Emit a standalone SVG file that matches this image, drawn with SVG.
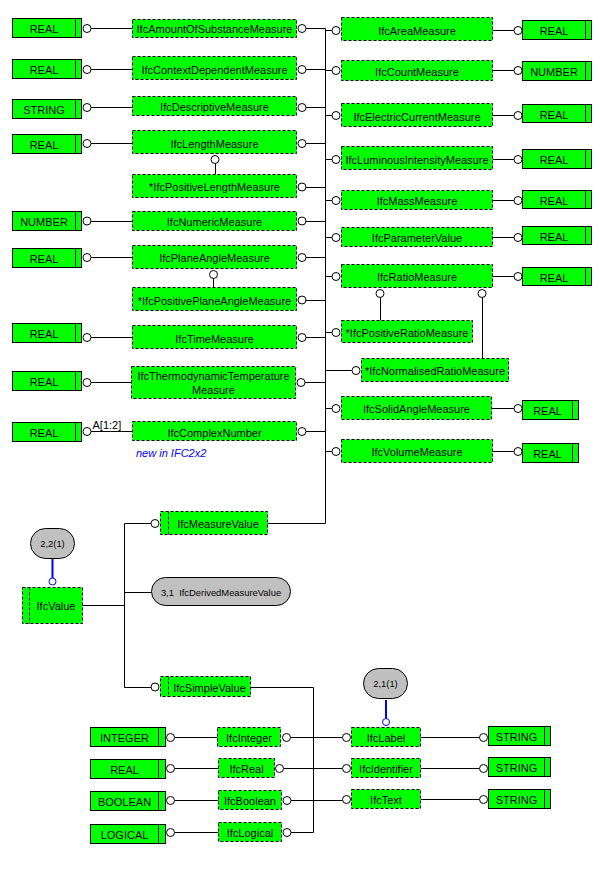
<svg xmlns="http://www.w3.org/2000/svg" width="600" height="888" viewBox="0 0 600 888">
<style>
.e{fill:#00ff00;stroke:#000;stroke-width:1;stroke-dasharray:3 2}
.b{fill:#00ff00;stroke:#000;stroke-width:1}
.d{stroke:#000;stroke-width:1;fill:none}
.dd{stroke:#000;stroke-width:1;fill:none;stroke-dasharray:3 2}
.c{fill:#fff;stroke:#000;stroke-width:1}
.cb{fill:#fff;stroke:#0000ff;stroke-width:1}
.o{fill:#c0c0c0;stroke:#000;stroke-width:1}
.l{stroke:#000;stroke-width:1;fill:none}
.lb{stroke:#0000ff;stroke-width:2;fill:none}
text{font-family:"Liberation Sans",Arial,sans-serif;font-size:11px;text-anchor:middle;fill:#000}
.s{font-size:9.4px}
.n{fill:#0000ff;font-style:italic;text-anchor:start}
.a{text-anchor:start}
</style>
<rect x="0" y="0" width="600" height="888" fill="#fff"/>

<g id="connectors">
<!-- left base types to middle column -->
<path class="l" d="M91,28.5H132.5 M91,69.5H132.5 M91,107.5H132.5 M91,143.5H132.5 M91,221.5H132.5 M91,257.5H132.5 M91,337.5H132.5 M91,382.5H131.5 M91,431.5H132.5"/>
<!-- middle column to bus -->
<path class="l" d="M306,28.5H325.5 M306,69.5H325.5 M306,107.5H325.5 M306,143.5H325.5 M306,187.5H325.5 M306,221.5H325.5 M306,257.5H325.5 M306,300.5H325.5 M306,337.5H325.5 M305,382.5H325.5 M306,431.5H325.5"/>
<!-- bus -->
<path class="l" d="M325.5,28.5V523.5H267.5"/>
<!-- bus to right column -->
<path class="l" d="M325.5,30.5H332 M325.5,70.5H332 M325.5,115.5H332 M325.5,159.5H332 M325.5,200.5H332 M325.5,237.5H332 M325.5,276.5H332 M325.5,332.5H332 M325.5,370.5H352 M325.5,408.5H332 M325.5,451.5H332"/>
<!-- right column to base types -->
<path class="l" d="M492.5,30.5H514 M492.5,70.5H514 M492.5,115.5H514 M492.5,159.5H514 M492.5,200.5H514 M492.5,237.5H514 M492.5,276.5H514 M491.5,408.5H514 M492.5,451.5H514"/>
<!-- subtype links -->
<path class="l" d="M215.5,163.5V174.5 M213.5,278.5V287.5 M380.5,297.5V320.5 M482.5,297.5V358.5"/>
<!-- IfcValue select -->
<path class="l" d="M82.5,605.5H124.5 M124.5,523.5V687.5 M124.5,523.5H151 M124.5,592.5H151 M124.5,687.5H151"/>
<path class="lb" d="M52.5,559V578"/>
<!-- IfcSimpleValue select -->
<path class="l" d="M250.5,687.5H313.5V832.5 M290.5,737.5H342.5 M283.5,768.5H342.5 M291,800.5H342.5 M291,832.5H313.5"/>
<path class="l" d="M174.5,737.5H217.5 M174.5,768.5H218.5 M174.5,800.5H218.5 M174.5,832.5H218.5"/>
<path class="l" d="M420.5,737.5H479.5 M420.5,768.5H479.5 M420.5,799.5H479.5"/>
<path class="lb" d="M386,700V718.5"/>
</g>

<!-- left base types -->
<g id="b_real1"><rect class="b" x="12.5" y="18.5" width="69" height="19"/><path class="d" d="M75.5,18.5V37.5"/><text x="44" y="33">REAL</text><circle class="c" cx="87" cy="28.5" r="4"/></g>
<g id="b_real2"><rect class="b" x="12.5" y="59.5" width="69" height="19"/><path class="d" d="M75.5,59.5V78.5"/><text x="44" y="74">REAL</text><circle class="c" cx="87" cy="69.5" r="4"/></g>
<g id="b_string1"><rect class="b" x="12.5" y="99.5" width="69" height="19"/><path class="d" d="M75.5,99.5V118.5"/><text x="44" y="114">STRING</text><circle class="c" cx="87" cy="107.5" r="4"/></g>
<g id="b_real3"><rect class="b" x="12.5" y="134.5" width="69" height="19"/><path class="d" d="M75.5,134.5V153.5"/><text x="44" y="149">REAL</text><circle class="c" cx="87" cy="143.5" r="4"/></g>
<g id="b_number1"><rect class="b" x="12.5" y="211.5" width="69" height="19"/><path class="d" d="M75.5,211.5V230.5"/><text x="44" y="226">NUMBER</text><circle class="c" cx="87" cy="221" r="4"/></g>
<g id="b_real4"><rect class="b" x="12.5" y="248.5" width="69" height="19"/><path class="d" d="M75.5,248.5V267.5"/><text x="44" y="263">REAL</text><circle class="c" cx="87" cy="257.5" r="4"/></g>
<g id="b_real5"><rect class="b" x="12.5" y="323.5" width="69" height="19"/><path class="d" d="M75.5,323.5V342.5"/><text x="44" y="338">REAL</text><circle class="c" cx="87" cy="337.5" r="4"/></g>
<g id="b_real6"><rect class="b" x="12.5" y="371.5" width="69" height="19"/><path class="d" d="M75.5,371.5V390.5"/><text x="44" y="386">REAL</text><circle class="c" cx="87" cy="382.5" r="4"/></g>
<g id="b_real7"><rect class="b" x="12.5" y="422.5" width="69" height="19"/><path class="d" d="M75.5,422.5V441.5"/><text x="44" y="437">REAL</text><circle class="c" cx="87" cy="431.5" r="4"/><text class="a" x="92.5" y="428.5">A[1:2]</text></g>

<!-- middle column -->
<g id="IfcAmountOfSubstanceMeasure"><rect class="e" x="132.5" y="19.5" width="164" height="18"/><text x="214.5" y="33">IfcAmountOfSubstanceMeasure</text><circle class="c" cx="302" cy="28.5" r="4"/></g>
<g id="IfcContextDependentMeasure"><rect class="e" x="132.5" y="56.5" width="164" height="23"/><text x="214.5" y="73.5">IfcContextDependentMeasure</text><circle class="c" cx="302" cy="69.5" r="4"/></g>
<g id="IfcDescriptiveMeasure"><rect class="e" x="132.5" y="96.5" width="164" height="19"/><text x="214.5" y="111">IfcDescriptiveMeasure</text><circle class="c" cx="302" cy="107.5" r="4"/></g>
<g id="IfcLengthMeasure"><rect class="e" x="132.5" y="130.5" width="164" height="23"/><text x="214.5" y="147.5">IfcLengthMeasure</text><circle class="c" cx="302" cy="143.5" r="4"/><circle class="c" cx="215" cy="159.5" r="4"/></g>
<g id="IfcPositiveLengthMeasure"><rect class="e" x="132.5" y="174.5" width="164" height="23"/><text x="214.5" y="191">*IfcPositiveLengthMeasure</text><circle class="c" cx="302" cy="187" r="4"/></g>
<g id="IfcNumericMeasure"><rect class="e" x="132.5" y="211.5" width="164" height="19"/><text x="214.5" y="226">IfcNumericMeasure</text><circle class="c" cx="302" cy="221" r="4"/></g>
<g id="IfcPlaneAngleMeasure"><rect class="e" x="132.5" y="245.5" width="164" height="23"/><text x="214.5" y="262">IfcPlaneAngleMeasure</text><circle class="c" cx="302" cy="257.5" r="4"/><circle class="c" cx="213.5" cy="274.5" r="4"/></g>
<g id="IfcPositivePlaneAngleMeasure"><rect class="e" x="132.5" y="287.5" width="164" height="23"/><text x="214.5" y="304.5">*IfcPositivePlaneAngleMeasure</text><circle class="c" cx="302" cy="300" r="4"/></g>
<g id="IfcTimeMeasure"><rect class="e" x="132.5" y="325.5" width="164" height="23"/><text x="214.5" y="342.5">IfcTimeMeasure</text><circle class="c" cx="302" cy="337.5" r="4"/></g>
<g id="IfcThermodynamicTemperatureMeasure"><rect class="e" x="131.5" y="366.5" width="164" height="32"/><text x="213.5" y="380">IfcThermodynamicTemperature</text><text x="213.5" y="393.5">Measure</text><circle class="c" cx="301" cy="382.5" r="4"/></g>
<g id="IfcComplexNumber"><rect class="e" x="132.5" y="421.5" width="164" height="19"/><text x="214.5" y="436.5">IfcComplexNumber</text><circle class="c" cx="302" cy="431.5" r="4"/><text class="n" x="136" y="457">new in IFC2x2</text></g>

<!-- right column -->
<g id="IfcAreaMeasure"><circle class="c" cx="336" cy="30.5" r="4"/><rect class="e" x="341.5" y="17.5" width="151" height="23"/><text x="417" y="34.5">IfcAreaMeasure</text></g>
<g id="IfcCountMeasure"><circle class="c" cx="336" cy="70.5" r="4"/><rect class="e" x="341.5" y="60.5" width="151" height="20"/><text x="417" y="75.5">IfcCountMeasure</text></g>
<g id="IfcElectricCurrentMeasure"><circle class="c" cx="336" cy="115.5" r="4"/><rect class="e" x="341.5" y="103.5" width="151" height="23"/><text x="417" y="120.5">IfcElectricCurrentMeasure</text></g>
<g id="IfcLuminousIntensityMeasure"><circle class="c" cx="336" cy="159.5" r="4"/><rect class="e" x="341.5" y="146.5" width="151" height="23"/><text x="417" y="164">IfcLuminousIntensityMeasure</text></g>
<g id="IfcMassMeasure"><circle class="c" cx="336" cy="200.5" r="4"/><rect class="e" x="341.5" y="190.5" width="151" height="19"/><text x="417" y="205">IfcMassMeasure</text></g>
<g id="IfcParameterValue"><circle class="c" cx="336" cy="237.5" r="4"/><rect class="e" x="341.5" y="227.5" width="151" height="19"/><text x="417" y="242">IfcParameterValue</text></g>
<g id="IfcRatioMeasure"><circle class="c" cx="336" cy="276.5" r="4"/><rect class="e" x="341.5" y="264.5" width="151" height="23"/><text x="417" y="281">IfcRatioMeasure</text><circle class="c" cx="380" cy="293.5" r="4"/><circle class="c" cx="482" cy="293.5" r="4"/></g>
<g id="IfcPositiveRatioMeasure"><circle class="c" cx="336" cy="332.5" r="4"/><rect class="e" x="341.5" y="320.5" width="131" height="22"/><text x="407" y="337">*IfcPositiveRatioMeasure</text></g>
<g id="IfcNormalisedRatioMeasure"><circle class="c" cx="356" cy="370.5" r="4"/><rect class="e" x="361.5" y="358.5" width="147" height="23"/><text x="435" y="375">*IfcNormalisedRatioMeasure</text></g>
<g id="IfcSolidAngleMeasure"><circle class="c" cx="336" cy="408.5" r="4"/><rect class="e" x="341.5" y="396.5" width="150" height="23"/><text x="416.5" y="413">IfcSolidAngleMeasure</text></g>
<g id="IfcVolumeMeasure"><circle class="c" cx="336" cy="451.5" r="4"/><rect class="e" x="341.5" y="439.5" width="151" height="23"/><text x="417" y="456">IfcVolumeMeasure</text></g>

<!-- right base types -->
<g id="r_real1"><circle class="c" cx="518" cy="30.5" r="4"/><rect class="b" x="522.5" y="20.5" width="69" height="19"/><path class="d" d="M585.5,20.5V39.5"/><text x="554" y="35">REAL</text></g>
<g id="r_number"><circle class="c" cx="518" cy="70.5" r="4"/><rect class="b" x="522.5" y="61.5" width="69" height="19"/><path class="d" d="M585.5,61.5V80.5"/><text x="554" y="76">NUMBER</text></g>
<g id="r_real2"><circle class="c" cx="518" cy="115.5" r="4"/><rect class="b" x="522.5" y="104.5" width="69" height="18"/><path class="d" d="M585.5,104.5V122.5"/><text x="554" y="118.5">REAL</text></g>
<g id="r_real3"><circle class="c" cx="518" cy="159.5" r="4"/><rect class="b" x="522.5" y="149.5" width="69" height="19"/><path class="d" d="M585.5,149.5V168.5"/><text x="554" y="164">REAL</text></g>
<g id="r_real4"><circle class="c" cx="518" cy="200.5" r="4"/><rect class="b" x="522.5" y="190.5" width="69" height="18"/><path class="d" d="M585.5,190.5V208.5"/><text x="554" y="204.5">REAL</text></g>
<g id="r_real5"><circle class="c" cx="518" cy="237.5" r="4"/><rect class="b" x="522.5" y="226.5" width="69" height="18"/><path class="d" d="M585.5,226.5V244.5"/><text x="554" y="240.5">REAL</text></g>
<g id="r_real6"><circle class="c" cx="518" cy="276.5" r="4"/><rect class="b" x="522.5" y="267.5" width="69" height="18"/><path class="d" d="M585.5,267.5V285.5"/><text x="554" y="281.5">REAL</text></g>
<g id="r_real7"><circle class="c" cx="518" cy="408.5" r="4"/><rect class="b" x="522.5" y="400.5" width="56" height="19"/><path class="d" d="M572.5,400.5V419.5"/><text x="547.5" y="415">REAL</text></g>
<g id="r_real8"><circle class="c" cx="518" cy="451.5" r="4"/><rect class="b" x="522.5" y="443.5" width="56" height="19"/><path class="d" d="M572.5,443.5V462.5"/><text x="547.5" y="458">REAL</text></g>

<!-- IfcValue -->
<g id="ref_2_2"><rect class="o" x="30.5" y="528.5" width="44" height="30" rx="15" ry="15"/><text class="s" x="52.5" y="547">2,2(1)</text><circle class="cb" cx="52.5" cy="581.5" r="3.5"/></g>
<g id="IfcValue"><rect class="e" x="22.5" y="587.5" width="60" height="36"/><path class="dd" d="M29.5,587.5V623.5"/><text x="56" y="610">IfcValue</text></g>
<g id="IfcMeasureValue"><circle class="c" cx="155" cy="523.5" r="4"/><rect class="e" x="160.5" y="511.5" width="107" height="23"/><path class="dd" d="M168.5,511.5V534.5"/><text x="218" y="528">IfcMeasureValue</text></g>
<g id="IfcDerivedMeasureValue"><rect class="o" x="151.5" y="577.5" width="139" height="28" rx="14" ry="14"/><text class="s" x="221" y="595.5" xml:space="preserve">3,1  IfcDerivedMeasureValue</text></g>
<g id="IfcSimpleValue"><circle class="c" cx="155" cy="687" r="4"/><rect class="e" x="160.5" y="676.5" width="90" height="20"/><path class="dd" d="M168.5,676.5V696.5"/><text x="209.5" y="691.5">IfcSimpleValue</text></g>

<!-- simple values -->
<g id="b_integer"><rect class="b" x="90.5" y="727.5" width="75" height="19"/><path class="d" d="M158.5,727.5V746.5"/><text x="124.5" y="742">INTEGER</text><circle class="c" cx="170.5" cy="737.5" r="4"/></g>
<g id="b_real9"><rect class="b" x="90.5" y="759.5" width="75" height="19"/><path class="d" d="M158.5,759.5V778.5"/><text x="124.5" y="774">REAL</text><circle class="c" cx="170.5" cy="768.5" r="4"/></g>
<g id="b_boolean"><rect class="b" x="90.5" y="791.5" width="75" height="19"/><path class="d" d="M158.5,791.5V810.5"/><text x="124.5" y="806">BOOLEAN</text><circle class="c" cx="170.5" cy="800.5" r="4"/></g>
<g id="b_logical"><rect class="b" x="90.5" y="824.5" width="75" height="19"/><path class="d" d="M158.5,824.5V843.5"/><text x="124.5" y="839">LOGICAL</text><circle class="c" cx="170.5" cy="832.5" r="4"/></g>
<g id="IfcInteger"><rect class="e" x="217.5" y="727.5" width="63" height="19"/><text x="249" y="742">IfcInteger</text><circle class="c" cx="286.5" cy="737.5" r="4"/></g>
<g id="IfcReal"><rect class="e" x="218.5" y="758.5" width="56" height="19"/><text x="246.5" y="773">IfcReal</text><circle class="c" cx="279.5" cy="768.5" r="4"/></g>
<g id="IfcBoolean"><rect class="e" x="218.5" y="790.5" width="63" height="19"/><text x="250" y="805">IfcBoolean</text><circle class="c" cx="287" cy="800.5" r="4"/></g>
<g id="IfcLogical"><rect class="e" x="218.5" y="822.5" width="63" height="19"/><text x="250" y="837">IfcLogical</text><circle class="c" cx="287" cy="832.5" r="4"/></g>

<g id="ref_2_1"><rect class="o" x="363.5" y="668.5" width="44" height="30" rx="15" ry="15"/><text class="s" x="385.5" y="687">2,1(1)</text><circle class="cb" cx="386" cy="722" r="3.5"/></g>
<g id="IfcLabel"><circle class="c" cx="346.5" cy="737.5" r="4"/><rect class="e" x="351.5" y="727.5" width="69" height="19"/><text x="386" y="742">IfcLabel</text></g>
<g id="IfcIdentifier"><circle class="c" cx="346.5" cy="768.5" r="4"/><rect class="e" x="351.5" y="758.5" width="69" height="19"/><text x="386" y="773">IfcIdentifier</text></g>
<g id="IfcText"><circle class="c" cx="346.5" cy="799.5" r="4"/><rect class="e" x="351.5" y="789.5" width="69" height="19"/><text x="386" y="804">IfcText</text></g>
<g id="b_string2"><circle class="c" cx="483.5" cy="737.5" r="4"/><rect class="b" x="488.5" y="726.5" width="62" height="19"/><path class="d" d="M544.5,726.5V745.5"/><text x="516.5" y="741">STRING</text></g>
<g id="b_string3"><circle class="c" cx="483.5" cy="768.5" r="4"/><rect class="b" x="488.5" y="757.5" width="62" height="19"/><path class="d" d="M544.5,757.5V776.5"/><text x="516.5" y="772">STRING</text></g>
<g id="b_string4"><circle class="c" cx="483.5" cy="799.5" r="4"/><rect class="b" x="488.5" y="789.5" width="62" height="19"/><path class="d" d="M544.5,789.5V808.5"/><text x="516.5" y="804">STRING</text></g>
</svg>
